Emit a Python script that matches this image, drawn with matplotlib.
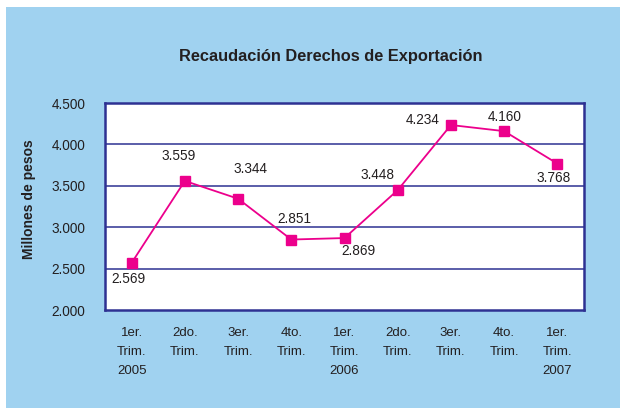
import matplotlib
matplotlib.use("Agg")
import matplotlib.pyplot as plt
from matplotlib.patches import Rectangle

quarters = ["1er.\nTrim.\n2005", "2do.\nTrim.", "3er.\nTrim.", "4to.\nTrim.",
            "1er.\nTrim.\n2006", "2do.\nTrim.", "3er.\nTrim.", "4to.\nTrim.",
            "1er.\nTrim.\n2007"]
recaudacion = [2569, 3559, 3344, 2851, 2869, 3448, 4234, 4160, 3768]
yticks = [2000, 2500, 3000, 3500, 4000, 4500]

# label offsets in pixels relative to each point
label_offsets = [(-3, -16), (-6, 25), (12, 30), (3, 21), (14, -13),
                 (-20, 15), (-28, 5), (1, 14), (-4, -14)]

plt.rcParams["font.family"] = ["Liberation Sans", "DejaVu Sans"]
text_color = "#231F20"
navy = "#2E3192"

fig = plt.figure(figsize=(6.2, 4.08), dpi=100, facecolor="white")
fig.patches.append(Rectangle((6 / 620, 0), 1 - 6 / 620, 1 - 7 / 408,
                             transform=fig.transFigure, facecolor="#A0D2F0",
                             edgecolor="none", zorder=-1))

ax = fig.add_axes([105 / 620, 98 / 408, 479 / 620, 207 / 408])
ax.set_facecolor("white")
x = list(range(len(quarters)))
ax.plot(x, recaudacion, color="#EC008C", lw=1.3, marker="s", ms=7.5,
        markeredgecolor="#EC008C", zorder=3)

for xi, v, (dx, dy) in zip(x, recaudacion, label_offsets):
    s = f"{v:,}".replace(",", ".")
    ax.annotate(s, (xi, v), xytext=(dx, dy), textcoords="offset pixels",
                ha="center", va="center", fontsize=9.8, color=text_color)

ax.set_xlim(-0.5, len(quarters) - 0.5)
ax.set_ylim(2000, 4500)
ax.set_yticks(yticks)
ax.set_yticklabels([f"{t:,}".replace(",", ".") for t in yticks],
                   fontsize=9.8, color=text_color)
ax.set_xticks(x)
ax.set_xticklabels(quarters, fontsize=9.5, color=text_color, linespacing=1.8)
ax.tick_params(axis="both", length=0)
ax.tick_params(axis="y", pad=14)
ax.tick_params(axis="x", pad=12)
for t in yticks[1:-1]:
    ax.axhline(t, color=navy, lw=1.1, zorder=1)
for sp in ax.spines.values():
    sp.set_color(navy)
    sp.set_linewidth(1.8)

ax.set_ylabel("Millones de pesos", fontsize=10, fontweight="bold",
              color=text_color)
ax.yaxis.set_label_coords(-0.144, 0.535)
fig.text(331 / 620, 1 - 56 / 408, "Recaudación Derechos de Exportación",
         ha="center", va="center", fontsize=11.8, fontweight="bold",
         color=text_color)

fig.savefig("out.png", dpi=100, facecolor=fig.get_facecolor())
